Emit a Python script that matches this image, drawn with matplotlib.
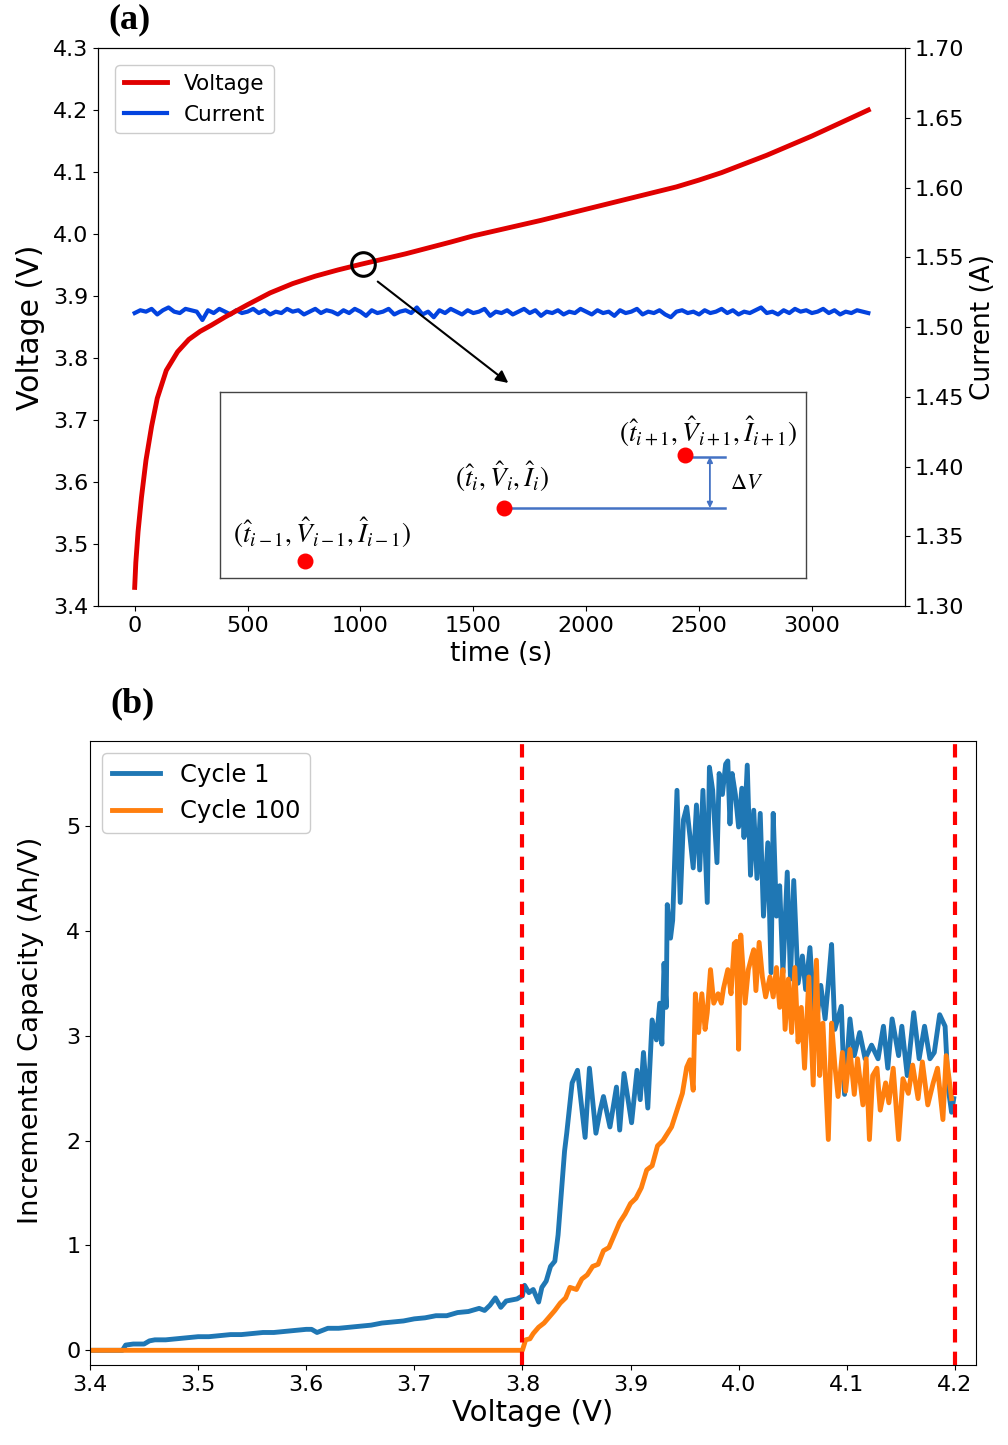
import matplotlib
matplotlib.use("Agg")
import matplotlib.pyplot as plt

# ---------------- Panel (a) data ----------------
time_voltage = [0, 5, 15, 30, 50, 75, 100, 140, 190, 240, 290, 340, 400, 500, 600,
                700, 800, 900, 1000, 1200, 1400, 1500, 1800, 2000, 2200, 2400,
                2500, 2600, 2800, 3000, 3250]
voltage = [3.430, 3.470, 3.520, 3.575, 3.635, 3.690, 3.735, 3.780, 3.810, 3.830,
           3.843, 3.853, 3.866, 3.886, 3.905, 3.920, 3.932, 3.942, 3.951, 3.968,
           3.987, 3.997, 4.022, 4.040, 4.058, 4.076, 4.087, 4.099, 4.127, 4.158,
           4.200]

time_current = [0, 25, 50, 75, 100, 125, 150, 175, 200, 225,
                250, 275, 300, 325, 350, 375, 400, 425, 450, 475,
                500, 525, 550, 575, 600, 625, 650, 675, 700, 725,
                750, 775, 800, 825, 850, 875, 900, 925, 950, 975,
                1000, 1025, 1050, 1075, 1100, 1125, 1150, 1175, 1200, 1225,
                1250, 1275, 1300, 1325, 1350, 1375, 1400, 1425, 1450, 1475,
                1500, 1525, 1550, 1575, 1600, 1625, 1650, 1675, 1700, 1725,
                1750, 1775, 1800, 1825, 1850, 1875, 1900, 1925, 1950, 1975,
                2000, 2025, 2050, 2075, 2100, 2125, 2150, 2175, 2200, 2225,
                2250, 2275, 2300, 2325, 2350, 2375, 2400, 2425, 2450, 2475,
                2500, 2525, 2550, 2575, 2600, 2625, 2650, 2675, 2700, 2725,
                2750, 2775, 2800, 2825, 2850, 2875, 2900, 2925, 2950, 2975,
                3000, 3025, 3050, 3075, 3100, 3125, 3150, 3175, 3200, 3225,
                3250]
current = [1.510, 1.512, 1.511, 1.513, 1.509, 1.512, 1.514, 1.511, 1.510, 1.513,
           1.512, 1.511, 1.505, 1.512, 1.510, 1.513, 1.511, 1.509, 1.512, 1.510,
           1.511, 1.513, 1.510, 1.512, 1.509, 1.511, 1.510, 1.513, 1.511, 1.512,
           1.509, 1.511, 1.513, 1.510, 1.512, 1.511, 1.509, 1.512, 1.510, 1.513,
           1.511, 1.508, 1.512, 1.510, 1.511, 1.513, 1.509, 1.511, 1.512, 1.510,
           1.514, 1.509, 1.511, 1.507, 1.512, 1.510, 1.513, 1.511, 1.509, 1.512,
           1.510, 1.511, 1.513, 1.508, 1.511, 1.510, 1.512, 1.509, 1.511, 1.513,
           1.510, 1.512, 1.508, 1.511, 1.510, 1.512, 1.509, 1.511, 1.510, 1.513,
           1.511, 1.509, 1.512, 1.510, 1.511, 1.508, 1.512, 1.510, 1.511, 1.513,
           1.509, 1.511, 1.510, 1.512, 1.509, 1.507, 1.511, 1.512, 1.510, 1.511,
           1.509, 1.512, 1.510, 1.511, 1.513, 1.510, 1.512, 1.509, 1.511, 1.510,
           1.512, 1.514, 1.510, 1.511, 1.509, 1.512, 1.510, 1.513, 1.511, 1.512,
           1.510, 1.511, 1.513, 1.510, 1.512, 1.509, 1.511, 1.510, 1.512, 1.511,
           1.510]

# zoom marker on the voltage curve
zoom_point_time = 1013
zoom_point_voltage = 3.952

# ---------------- Panel (b) data ----------------
v_cycle1 = [3.400, 3.430, 3.433, 3.440, 3.450, 3.455, 3.460, 3.470, 3.480, 3.490,
            3.500, 3.510, 3.520, 3.530, 3.540, 3.550, 3.560, 3.570, 3.580, 3.590,
            3.600, 3.605, 3.610, 3.620, 3.630, 3.640, 3.650, 3.660, 3.670, 3.680,
            3.690, 3.700, 3.710, 3.720, 3.730, 3.740, 3.750, 3.760, 3.765, 3.770,
            3.775, 3.780, 3.785, 3.790, 3.795, 3.800, 3.802, 3.806, 3.810, 3.815,
            3.818, 3.822, 3.826, 3.830, 3.833, 3.836, 3.839, 3.841, 3.846, 3.851,
            3.858, 3.862, 3.868, 3.872, 3.875, 3.881, 3.887, 3.890, 3.894, 3.901,
            3.906, 3.909, 3.912, 3.916, 3.920, 3.924, 3.927, 3.929, 3.931, 3.933,
            3.934, 3.937, 3.939, 3.943, 3.946, 3.949, 3.952, 3.955, 3.958, 3.961,
            3.964, 3.967, 3.971, 3.973, 3.976, 3.980, 3.982, 3.985, 3.988, 3.990,
            3.992, 3.994, 3.997, 4.000, 4.003, 4.005, 4.008, 4.011, 4.014, 4.017,
            4.020, 4.023, 4.027, 4.030, 4.032, 4.035, 4.038, 4.041, 4.045, 4.048,
            4.051, 4.055, 4.059, 4.062, 4.066, 4.071, 4.076, 4.080, 4.083, 4.086,
            4.089, 4.095, 4.098, 4.103, 4.107, 4.112, 4.117, 4.123, 4.129, 4.134,
            4.138, 4.142, 4.148, 4.151, 4.156, 4.162, 4.167, 4.172, 4.177, 4.181,
            4.186, 4.191, 4.194, 4.197, 4.199]
ic_cycle1 = [0.00, 0.00, 0.05, 0.06, 0.06, 0.09, 0.10, 0.10, 0.11, 0.12,
             0.13, 0.13, 0.14, 0.15, 0.15, 0.16, 0.17, 0.17, 0.18, 0.19,
             0.20, 0.20, 0.17, 0.21, 0.21, 0.22, 0.23, 0.24, 0.26, 0.27,
             0.28, 0.30, 0.31, 0.33, 0.33, 0.36, 0.37, 0.40, 0.38, 0.43,
             0.50, 0.41, 0.47, 0.48, 0.49, 0.52, 0.62, 0.55, 0.58, 0.46,
             0.60, 0.66, 0.80, 0.85, 1.10, 1.50, 1.90, 2.07, 2.55, 2.67,
             2.03, 2.69, 2.07, 2.29, 2.42, 2.13, 2.51, 2.10, 2.64, 2.17,
             2.67, 2.39, 2.84, 2.31, 3.15, 2.96, 3.31, 2.92, 3.69, 3.27,
             4.25, 3.93, 4.10, 5.34, 4.27, 5.06, 5.18, 4.90, 4.60, 5.20,
             4.58, 5.34, 4.27, 5.56, 5.34, 4.65, 5.50, 5.30, 5.59, 5.62,
             5.02, 5.50, 5.30, 4.99, 5.36, 4.89, 5.58, 4.53, 5.15, 4.50,
             5.12, 4.14, 4.84, 3.60, 5.12, 4.14, 4.43, 3.60, 4.56, 3.54,
             4.48, 3.50, 3.76, 3.44, 3.84, 3.03, 3.48, 3.16, 3.50, 3.87,
             3.06, 3.28, 2.44, 3.16, 2.81, 3.03, 2.78, 2.91, 2.78, 3.09,
             2.69, 3.16, 2.81, 3.09, 2.62, 3.22, 2.78, 3.09, 2.78, 2.84,
             3.20, 3.09, 2.49, 2.27, 2.40]

v_cycle100 = [3.400, 3.800, 3.803, 3.807, 3.810, 3.815, 3.820, 3.825, 3.830, 3.835,
              3.840, 3.844, 3.850, 3.855, 3.860, 3.865, 3.870, 3.875, 3.880, 3.885,
              3.890, 3.895, 3.900, 3.905, 3.910, 3.915, 3.920, 3.925, 3.930, 3.938,
              3.943, 3.948, 3.952, 3.955, 3.958, 3.960, 3.963, 3.966, 3.969, 3.971,
              3.974, 3.977, 3.981, 3.984, 3.986, 3.990, 3.993, 3.996, 3.998, 4.000,
              4.002, 4.004, 4.006, 4.009, 4.012, 4.014, 4.016, 4.019, 4.022, 4.025,
              4.029, 4.032, 4.035, 4.038, 4.041, 4.043, 4.046, 4.049, 4.052, 4.055,
              4.058, 4.061, 4.065, 4.069, 4.072, 4.075, 4.078, 4.083, 4.086, 4.089,
              4.092, 4.096, 4.099, 4.103, 4.107, 4.110, 4.115, 4.118, 4.121, 4.124,
              4.128, 4.131, 4.136, 4.139, 4.143, 4.148, 4.152, 4.157, 4.161, 4.166,
              4.170, 4.175, 4.180, 4.184, 4.189, 4.192, 4.197]
ic_cycle100 = [0.00, 0.00, 0.10, 0.11, 0.16, 0.22, 0.26, 0.32, 0.38, 0.45,
               0.50, 0.60, 0.58, 0.68, 0.72, 0.80, 0.82, 0.95, 0.98, 1.10,
               1.22, 1.30, 1.40, 1.45, 1.55, 1.72, 1.76, 1.95, 2.00, 2.13,
               2.29, 2.45, 2.70, 2.77, 2.48, 3.40, 3.03, 3.40, 3.06, 3.22,
               3.63, 3.31, 3.40, 3.31, 3.45, 3.63, 3.40, 3.88, 3.90, 2.87,
               3.96, 3.65, 3.31, 3.63, 3.75, 3.82, 3.43, 3.89, 3.56, 3.37,
               3.56, 3.37, 3.65, 3.27, 3.63, 3.06, 3.54, 3.03, 3.65, 2.94,
               3.27, 2.69, 3.56, 2.53, 3.72, 2.62, 3.12, 2.01, 3.12, 2.72,
               2.42, 2.84, 2.47, 2.87, 2.44, 2.78, 2.34, 2.78, 2.01, 2.62,
               2.69, 2.29, 2.55, 2.36, 2.69, 2.01, 2.59, 2.45, 2.72, 2.40,
               2.75, 2.34, 2.55, 2.69, 2.20, 2.81, 2.40]

window_edges = [3.8, 4.2]

W, H = 1008, 1445
plt.rcParams['mathtext.fontset'] = 'stix'
fig = plt.figure(figsize=(W / 100, H / 100), dpi=100)


def rect(l, r, t, b):
    return [l / W, 1 - b / H, (r - l) / W, (b - t) / H]


TICK = 16
# ---------------- Panel (a) ----------------
ax1 = fig.add_axes(rect(98, 905, 48, 606))
l1, = ax1.plot(time_voltage, voltage, color='#e00000', lw=3.5, label='Voltage')
ax1.set_ylim(3.4, 4.3)
ax1.set_xlim(-162.5, 3412.5)
ax1.set_xticks([0, 500, 1000, 1500, 2000, 2500, 3000])
ax1.set_yticks([3.4, 3.5, 3.6, 3.7, 3.8, 3.9, 4.0, 4.1, 4.2, 4.3])
ax1.set_xlabel('time (s)', fontsize=19, labelpad=4)
ax1.set_ylabel('Voltage (V)', fontsize=21.5, labelpad=6)
ax1.tick_params(labelsize=TICK)

ax2 = ax1.twinx()
l2, = ax2.plot(time_current, current, color='#0343df', lw=3.0, label='Current')
ax2.set_ylim(1.30, 1.70)
ax2.set_yticks([1.30, 1.35, 1.40, 1.45, 1.50, 1.55, 1.60, 1.65, 1.70])
ax2.set_yticklabels(['1.30', '1.35', '1.40', '1.45', '1.50', '1.55', '1.60', '1.65', '1.70'])
ax2.set_ylabel('Current (A)', fontsize=19)
ax2.tick_params(labelsize=TICK)

ax2.legend([l1, l2], ['Voltage', 'Current'], loc='upper left', fontsize=15.5,
           handlelength=2.0, framealpha=1, borderaxespad=0.8)

# circle marking the zoomed-in region (drawn on the voltage axes)
ax1.plot([zoom_point_time], [zoom_point_voltage], marker='o', ms=17, mfc='none',
         mec='black', mew=2.2, zorder=6)
ax1.annotate('', xy=(1665, 3.757), xytext=(1067, 3.926),
             arrowprops=dict(arrowstyle='-|>', color='black', lw=1.5, mutation_scale=18))
ax1.set_zorder(ax2.get_zorder() + 1)
ax1.patch.set_visible(False)

# inset schematic
axi = fig.add_axes(rect(220, 806, 392, 578))
axi.set_xlim(0, 1)
axi.set_ylim(0, 1)
axi.set_xticks([])
axi.set_yticks([])
for s in axi.spines.values():
    s.set_color('#444444')
    s.set_linewidth(1.0)
pts_x = [0.145, 0.485, 0.793]
pts_y = [0.091, 0.376, 0.661]
axi.plot([0.485, 0.862], [0.376, 0.376], color='#4472c4', lw=1.8)
axi.plot([0.793, 0.862], [0.652, 0.652], color='#4472c4', lw=1.8)
axi.annotate('', xy=(0.836, 0.652), xytext=(0.836, 0.376),
             arrowprops=dict(arrowstyle='<|-|>', color='#4472c4', lw=1.3, mutation_scale=8,
                             shrinkA=0, shrinkB=0))
axi.scatter(pts_x, pts_y, s=110, color='#ff0000', zorder=5)
axi.text(0.174, 0.242, r'$(\hat{t}_{i-1},\hat{V}_{i-1},\hat{I}_{i-1})$', fontsize=19.5,
         ha='center', va='center')
axi.text(0.482, 0.548, r'$(\hat{t}_{i},\hat{V}_{i},\hat{I}_{i})$', fontsize=19.5,
         ha='center', va='center')
axi.text(0.833, 0.785, r'$(\hat{t}_{i+1},\hat{V}_{i+1},\hat{I}_{i+1})$', fontsize=19.5,
         ha='center', va='center')
axi.text(0.87, 0.51, r'$\Delta V$', fontsize=16, ha='left', va='center')

fig.text(130 / W, 1 - 20 / H, '(a)', fontsize=26, fontweight='bold',
         family='Liberation Serif', ha='center', va='center')

# ---------------- Panel (b) ----------------
axb = fig.add_axes(rect(90, 976, 741, 1365))
axb.plot(v_cycle1, ic_cycle1, color='#1f77b4', lw=3.5, label='Cycle 1')
axb.plot(v_cycle100, ic_cycle100, color='#ff7f0e', lw=3.5, label='Cycle 100')
for xv in window_edges:
    axb.axvline(xv, color='red', lw=3, ls=(0, (3.2, 2.2)))
axb.set_xlim(3.4, 4.2196)
axb.set_ylim(-0.14, 5.81)
axb.set_xticks([3.4, 3.5, 3.6, 3.7, 3.8, 3.9, 4.0, 4.1, 4.2])
axb.set_yticks([0, 1, 2, 3, 4, 5])
axb.set_xlabel('Voltage (V)', fontsize=21, labelpad=3)
axb.set_ylabel('Incremental Capacity (Ah/V)', fontsize=19.7, labelpad=8)
axb.yaxis.set_label_coords(-0.052, 0.537)
axb.tick_params(labelsize=TICK)
axb.legend(loc='upper left', fontsize=17.5, handlelength=2.0, framealpha=1)

fig.text(132 / W, 1 - 704 / H, '(b)', fontsize=26, fontweight='bold',
         family='Liberation Serif', ha='center', va='center')

fig.savefig('out.png', dpi=100)
